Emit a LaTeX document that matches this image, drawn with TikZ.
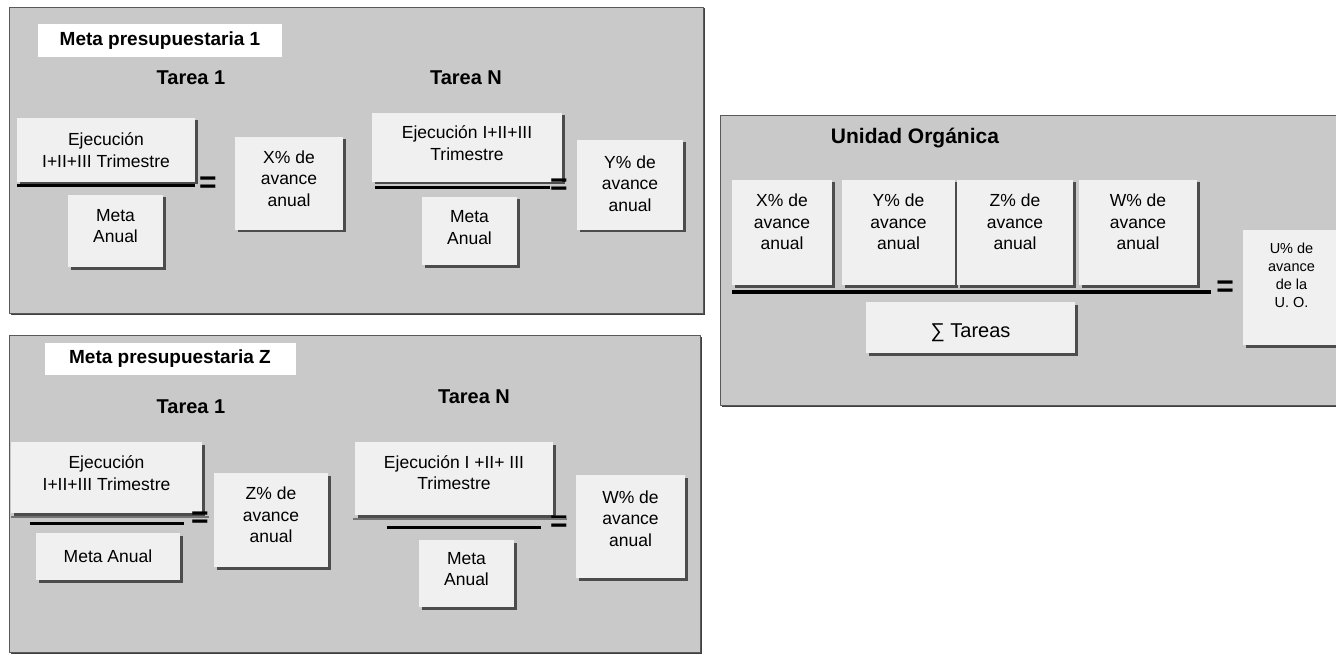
\documentclass[tikz,border=0pt]{standalone}
\usepackage{fontspec}
\setmainfont{Liberation Sans}
\usetikzlibrary{shadows}
\begin{document}
\begin{tikzpicture}[x=1pt,y=-1pt,line join=round,
	panel/.style={fill=black!21,draw=black!65,line width=0.8pt,drop shadow={shadow xshift=1.5pt,shadow yshift=-1.5pt,fill=black!75,opacity=1}},
	caja/.style={fill=black!6,inner sep=0pt,align=center,font=\fontsize{17.5}{21.5}\selectfont,drop shadow={shadow xshift=2.5pt,shadow yshift=-2.5pt,fill=black!70,opacity=1}},
	sube/.style={text depth=#1},
	titulo/.style={fill=white,inner sep=0pt,font=\bfseries\fontsize{19}{22}\selectfont},
	tarea/.style={font=\bfseries\fontsize{20}{23}\selectfont},
	igual/.style={font=\bfseries\fontsize{30}{30}\selectfont,inner sep=0pt},
	barra/.style={line width=3pt,black},
	barragris/.style={line width=2.5pt,black!55}]
	\useasboundingbox (0,0) rectangle (1336,655);
	\fill[white] (0,0) rectangle (1336,655);
	% Meta presupuestaria 1
	\path[panel] (9,7) rectangle (703,313);
	\node[titulo,minimum width=244,minimum height=33] (t1) at (160,41) {Meta presupuestaria 1};
	\node[tarea] (ta1) at (191,78) {Tarea 1};
	\node[tarea] (tn1) at (466,78) {Tarea N};
	\node[caja,minimum width=178,minimum height=64] (ej1) at (106,150) {Ejecución\\I+II+III Trimestre};
	\node[caja,sube=10pt,minimum width=95,minimum height=72] (ma1) at (115.5,231) {Meta\\Anual};
	\node[caja,sube=10pt,minimum width=108,minimum height=93] (x1) at (289,183.5) {X\% de\\avance\\anual};
	\node[igual] (eq1) at (208,185) {=};
	\draw[barra] ([yshift=-3pt]ej1.south west) -- ([yshift=-3pt]ej1.south east);
	\node[caja,sube=9pt,minimum width=190,minimum height=69] (ejn1) at (467,147.5) {Ejecución I+II+III\\Trimestre};
	\node[caja,sube=7pt,minimum width=95,minimum height=68] (man1) at (469.5,231) {Meta\\Anual};
	\node[caja,sube=3pt,minimum width=106,minimum height=90] (y1) at (630,185) {Y\% de\\avance\\anual};
	\node[igual] (eqn1) at (559,187) {=};
	\draw[barra] ([xshift=3pt,yshift=-5pt]ejn1.south west) -- ([xshift=-12pt,yshift=-5pt]ejn1.south east);
	% Meta presupuestaria Z
	\path[panel] (9,335) rectangle (700,652);
	\node[titulo,minimum width=251,minimum height=32] (t2) at (170,359) {Meta presupuestaria Z};
	\node[tarea] (ta2) at (191,407) {Tarea 1};
	\node[tarea] (tn2) at (474,397) {Tarea N};
	\node[caja,sube=9pt,minimum width=191,minimum height=71] (ej2) at (106.5,477.5) {Ejecución\\I+II+III Trimestre};
	\node[caja,minimum width=144,minimum height=47] (ma2) at (108,556.5) {Meta Anual};
	\node[caja,sube=10pt,minimum width=114,minimum height=94] (z2) at (271,520) {Z\% de\\avance\\anual};
	\node[igual] (eq2) at (200,520) {=};
	\draw[barragris] ([yshift=-4pt]ej2.south west) -- ([xshift=7pt,yshift=-4pt]ej2.south east);
	\draw[barra] ([xshift=19pt,yshift=-10pt]ej2.south west) -- ([xshift=-18pt,yshift=-10pt]ej2.south east);
	\node[caja,sube=12pt,minimum width=198,minimum height=73] (ejn2) at (454,478.5) {Ejecución I +II+ III\\Trimestre};
	\node[caja,sube=9pt,minimum width=95,minimum height=67] (man2) at (466.5,573.5) {Meta\\Anual};
	\node[caja,sube=16pt,minimum width=109,minimum height=103] (w2) at (630.5,526.5) {W\% de\\avance\\anual};
	\node[igual] (eqn2) at (559,524) {=};
	\draw[barragris] ([xshift=-2pt,yshift=-4pt]ejn2.south west) -- ([xshift=14pt,yshift=-4pt]ejn2.south east);
	\draw[barra] ([xshift=32pt,yshift=-12pt]ejn2.south west) -- ([xshift=-12pt,yshift=-12pt]ejn2.south east);
	% Unidad Organica
	\path[panel] (720,115) rectangle (1345,405);
	\node[tarea,font=\bfseries\fontsize{21}{24}\selectfont] (uo) at (915,138) {Unidad Orgánica};
	\node[caja,sube=21pt,minimum width=100,minimum height=105] (x3) at (782,232.5) {X\% de\\avance\\anual};
	\node[caja,sube=21pt,minimum width=113,minimum height=105] (y3) at (898.5,232.5) {Y\% de\\avance\\anual};
	\node[caja,sube=21pt,minimum width=116,minimum height=105] (z3) at (1015,232.5) {Z\% de\\avance\\anual};
	\node[caja,sube=21pt,minimum width=118,minimum height=105] (w3) at (1138,232.5) {W\% de\\avance\\anual};
	\node[caja,text height=25pt,minimum width=209,minimum height=51,font=\fontsize{20}{22}\selectfont] (st) at (970.5,327.5) {∑ Tareas};
	\node[igual] (eq3) at (1225,289) {=};
	\node[caja,sube=24pt,minimum width=97,minimum height=115,font=\fontsize{14.5}{18}\selectfont] (u3) at (1291.5,287.5) {U\% de\\avance\\de la\\U. O.};
	\draw[barra,line width=4pt] ([yshift=-7pt]x3.south west) -- ([xshift=14pt,yshift=-7pt]w3.south east);
\end{tikzpicture}
\end{document}
